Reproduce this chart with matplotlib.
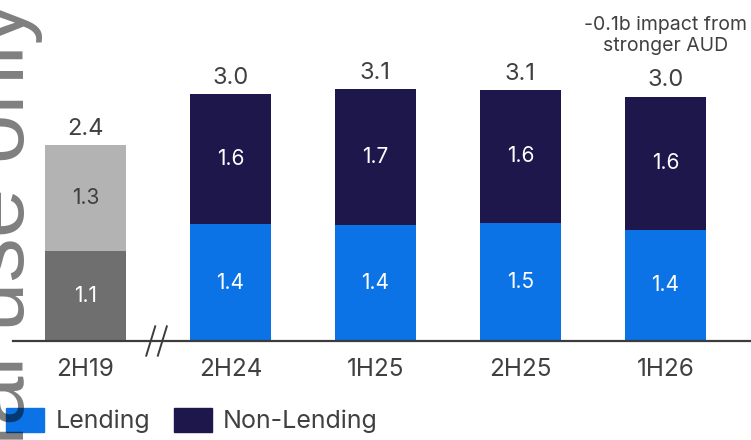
import matplotlib
matplotlib.use("Agg")
import matplotlib.pyplot as plt
from matplotlib.patches import Patch
import matplotlib.transforms as mtransforms

plt.rcParams['font.family'] = ['Inter', 'DejaVu Sans']

# DATA
periods = ['2H19', '2H24', '1H25', '2H25', '1H26']
lending = [1.10, 1.43, 1.42, 1.45, 1.36]
nonLending = [1.30, 1.59, 1.66, 1.62, 1.63]
lendingLabels = ['1.1', '1.4', '1.4', '1.5', '1.4']
nonLendingLabels = ['1.3', '1.6', '1.7', '1.6', '1.6']
totalLabels = ['2.4', '3.0', '3.1', '3.1', '3.0']
note = "-0.1b impact from\nstronger AUD"

# COLOURS
blue = '#0B73E6'
navy = '#1E174C'
darkGrey = '#6F6F6F'
lightGrey = '#B3B3B3'
textCol = '#404040'
axisCol = '#3C3C3C'

fig = plt.figure(figsize=(7.51, 4.40), dpi=100)
ax = fig.add_axes([13 / 751, 99 / 440, 738 / 751, 341 / 440])

x = list(range(len(periods)))
bottomCols = [darkGrey] + [blue] * 4
topCols = [lightGrey] + [navy] * 4
width = 0.557

ax.bar(x, lending, width, color=bottomCols, zorder=2)
ax.bar(x, nonLending, width, bottom=lending, color=topCols, zorder=2)

totals = [a + b for a, b in zip(lending, nonLending)]
for i in x:
    ax.text(i, lending[i] / 2, lendingLabels[i], ha='center', va='center',
            fontsize=15, color='white')
    ax.text(i, lending[i] + nonLending[i] / 2, nonLendingLabels[i], ha='center', va='center',
            fontsize=15, color=textCol if i == 0 else 'white')
    ax.annotate(totalLabels[i], (i, totals[i]), xytext=(0, 7.5), textcoords='offset points',
                ha='center', va='baseline', fontsize=17, color=textCol)

# note above last bar
ax.annotate(note, (x[-1], totals[-1]), xytext=(0, 33), textcoords='offset points',
            ha='center', va='baseline', fontsize=14, color=textCol, linespacing=1.18,
            annotation_clip=False)

ax.set_xlim(-0.5, 4.59)
ax.set_ylim(0, 341 / 81.67)
ax.set_xticks(x)
ax.set_xticklabels(periods, fontsize=17.5, color=textCol)
ax.tick_params(axis='x', length=0, pad=12)
ax.set_yticks([])
for s in ['top', 'left', 'right']:
    ax.spines[s].set_visible(False)
ax.spines['bottom'].set_color(axisCol)
ax.spines['bottom'].set_linewidth(1.6)

# axis break marks
trans = mtransforms.blended_transform_factory(ax.transData, ax.transAxes)
for bx in [0.45, 0.53]:
    ax.plot([bx - 0.031, bx + 0.031], [-0.043, 0.043], color=axisCol, lw=1.4,
            transform=trans, clip_on=False, zorder=3)

# legend
handles = [Patch(color=blue), Patch(color=navy)]
fig.legend(handles, ['Lending', 'Non-Lending'], loc='lower left',
           bbox_to_anchor=(6 / 751, 7 / 440), frameon=False, fontsize=18,
           handlelength=1.52, handleheight=1.1, handletextpad=0.45,
           columnspacing=0.95, ncol=2, borderpad=0, borderaxespad=0,
           labelcolor=textCol)

# watermark
fig.text(24 / 751, 1.0, 'For internal use only', rotation=90, rotation_mode='anchor',
         ha='right', va='baseline', fontsize=64, family='Liberation Sans',
         color='black', alpha=0.5, zorder=10)

fig.savefig('out.png', dpi=100)
